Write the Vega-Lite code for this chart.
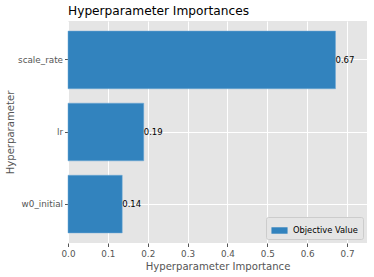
{
  "$schema": "https://vega.github.io/schema/vega-lite/v6.json",
  "width": 299,
  "height": 222,
  "autosize": "none",
  "padding": {"left": 68, "top": 21, "right": 7, "bottom": 34},
  "background": "white",
  "title": {
    "text": "Hyperparameter Importances",
    "anchor": "start",
    "frame": "group",
    "font": "DejaVu Sans",
    "fontSize": 12.2,
    "fontWeight": "normal",
    "color": "black",
    "offset": 4
  },
  "config": {
    "view": {"fill": "#e5e5e5", "stroke": null},
    "font": "DejaVu Sans"
  },
  "data": {
    "values": [
      {"param": "w0_initial", "importance": 0.136, "series": "Objective Value"},
      {"param": "lr", "importance": 0.190, "series": "Objective Value"},
      {"param": "scale_rate", "importance": 0.671, "series": "Objective Value"}
    ]
  },
  "encoding": {
    "y": {
      "field": "param",
      "type": "nominal",
      "sort": ["scale_rate", "lr", "w0_initial"],
      "scale": {"paddingInner": 0.2, "paddingOuter": 0.14},
      "title": "Hyperparameter",
      "axis": {
        "domain": false,
        "grid": true,
        "gridColor": "white",
        "gridWidth": 1,
        "tickColor": "#555555",
        "tickSize": 3.5,
        "labelColor": "#555555",
        "labelFontSize": 8.8,
        "labelFont": "DejaVu Sans",
        "labelPadding": 2,
        "titleColor": "#555555",
        "titleFontSize": 10.1,
        "titleFont": "DejaVu Sans",
        "titleFontWeight": "normal",
        "titlePadding": 2
      }
    },
    "x": {
      "field": "importance",
      "type": "quantitative",
      "scale": {"domain": [0, 0.75], "nice": false},
      "title": "Hyperparameter Importance",
      "axis": {
        "values": [0, 0.1, 0.2, 0.3, 0.4, 0.5, 0.6, 0.7],
        "format": ".1f",
        "labelFlush": false,
        "domain": false,
        "grid": true,
        "gridColor": "white",
        "gridWidth": 1,
        "tickColor": "#555555",
        "tickSize": 3.5,
        "labelColor": "#555555",
        "labelFontSize": 8.8,
        "labelFont": "DejaVu Sans",
        "labelPadding": 3,
        "titleColor": "#555555",
        "titleFontSize": 10.1,
        "titleFont": "DejaVu Sans",
        "titleFontWeight": "normal",
        "titlePadding": 3
      }
    }
  },
  "layer": [
    {
      "mark": {"type": "bar", "stroke": "#6fa8d6", "strokeWidth": 0.5},
      "encoding": {
        "color": {
          "field": "series",
          "type": "nominal",
          "scale": {"range": ["#3283be"]},
          "legend": {
            "title": null,
            "orient": "bottom-right",
            "offset": 4,
            "symbolType": "M-1,-0.4H1V0.4H-1Z",
            "symbolSize": 260,
            "symbolStrokeWidth": 0,
            "labelFont": "DejaVu Sans",
            "labelFontSize": 8.3,
            "labelColor": "black",
            "labelOffset": 5,
            "fillColor": "#e5e5e5",
            "strokeColor": "#cccccc",
            "cornerRadius": 2,
            "padding": 5
          }
        }
      }
    },
    {
      "mark": {
        "type": "text",
        "align": "left",
        "baseline": "middle",
        "dx": 0,
        "font": "DejaVu Sans",
        "fontSize": 8.5,
        "color": "black"
      },
      "encoding": {
        "text": {"field": "importance", "type": "quantitative", "format": ".2f"}
      }
    }
  ]
}
